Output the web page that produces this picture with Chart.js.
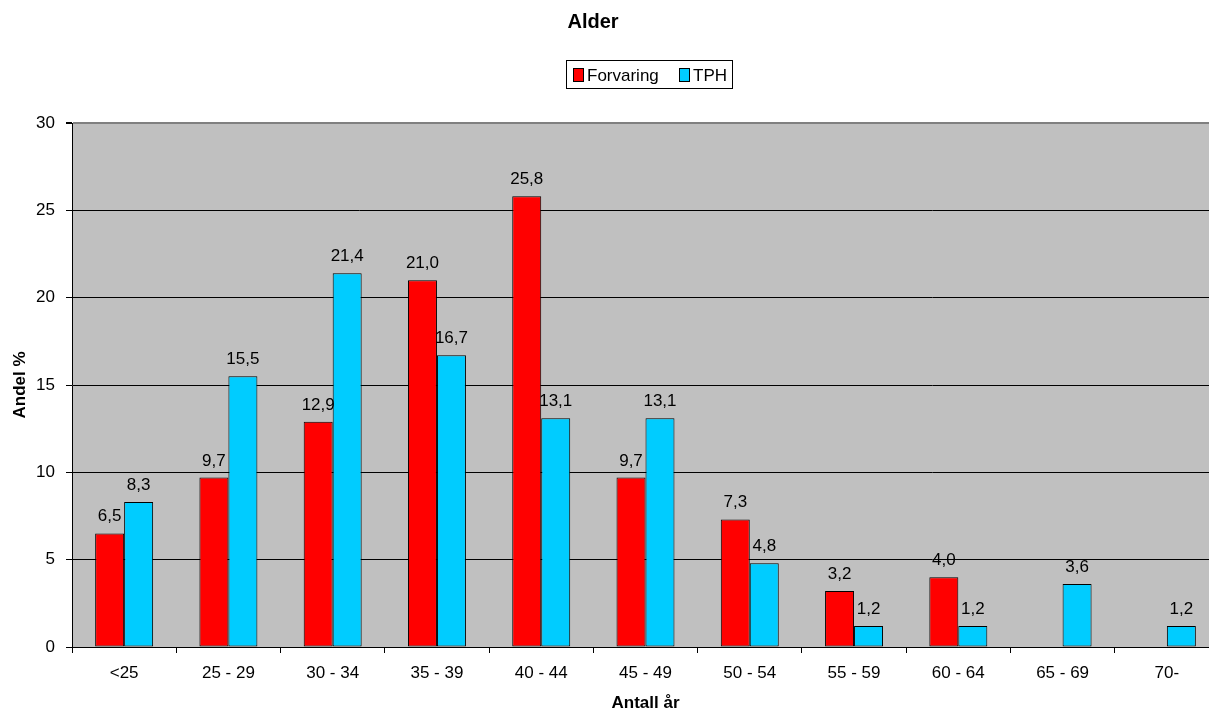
<!DOCTYPE html>
<html>
<head>
<meta charset="utf-8">
<script src="https://cdn.jsdelivr.net/npm/chart.js@4/dist/chart.umd.min.js"></script>
<style>
  html, body { margin: 0; padding: 0; background: #fff; overflow: hidden; }
  #wrap { width: 1230px; height: 710px; }
</style>
</head>
<body>
<div id="wrap"><canvas id="c" width="1230" height="710"></canvas></div>
<script>
// Age groups and shares (%)
const categories = ['<25', '25 - 29', '30 - 34', '35 - 39', '40 - 44', '45 - 49', '50 - 54', '55 - 59', '60 - 64', '65 - 69', '70-'];
const forvaring = [6.5, 9.7, 12.9, 21.0, 25.8, 9.7, 7.3, 3.2, 4.0, null, null];
const tph = [8.3, 15.5, 21.4, 16.7, 13.1, 13.1, 4.8, 1.2, 1.2, 3.6, 1.2];
const yTicks = [0, 5, 10, 15, 20, 25, 30];

const FONT = '"Liberation Sans", Arial, sans-serif';
const fmt = v => v.toFixed(1).replace('.', ',');

const decor = {
  id: 'decor',
  beforeDraw(chart) {
    const { ctx, chartArea: a } = chart;
    ctx.save();
    ctx.fillStyle = '#c0c0c0';
    ctx.fillRect(a.left, a.top, a.right - a.left, a.bottom - a.top);
    ctx.restore();
  },
  afterDatasetsDraw(chart) {
    const ctx = chart.ctx;
    ctx.save();
    // value labels above bars
    ctx.font = '17px ' + FONT;
    ctx.fillStyle = '#000';
    ctx.textAlign = 'center';
    ctx.textBaseline = 'alphabetic';
    chart.data.datasets.forEach((ds, i) => {
      chart.getDatasetMeta(i).data.forEach((bar, j) => {
        const v = ds.data[j];
        if (v == null) return;
        ctx.fillText(fmt(v), bar.x, bar.y - 12);
      });
    });
    ctx.restore();
  },
  afterDraw(chart) {
    const ctx = chart.ctx;
    ctx.save();
    ctx.fillStyle = '#000';
    ctx.textAlign = 'center';
    ctx.textBaseline = 'middle';
    // title
    ctx.font = 'bold 20px ' + FONT;
    ctx.fillText('Alder', 593, 22);
    ctx.restore();

    // legend box
    ctx.save();
    ctx.fillStyle = '#fff';
    ctx.fillRect(566.5, 60.5, 166, 28);
    ctx.strokeStyle = '#000';
    ctx.lineWidth = 1;
    ctx.strokeRect(566.5, 60.5, 166, 28);
    const items = [
      { label: 'Forvaring', color: '#ff0000', x: 573 },
      { label: 'TPH', color: '#00ccff', x: 679 }
    ];
    ctx.font = '17px ' + FONT;
    ctx.textAlign = 'left';
    ctx.textBaseline = 'alphabetic';
    items.forEach(it => {
      ctx.fillStyle = it.color;
      ctx.fillRect(it.x + 0.5, 68.5, 10, 13);
      ctx.strokeStyle = '#000';
      ctx.strokeRect(it.x + 0.5, 68.5, 10, 13);
      ctx.fillStyle = '#000';
      ctx.fillText(it.label, it.x + 14, 81);
    });
    ctx.restore();
  }
};

new Chart(document.getElementById('c'), {
  type: 'bar',
  data: {
    labels: categories,
    datasets: [
      { label: 'Forvaring', data: forvaring, backgroundColor: '#ff0000', borderColor: '#000', borderWidth: 1 },
      { label: 'TPH', data: tph, backgroundColor: '#00ccff', borderColor: '#000', borderWidth: 1 }
    ]
  },
  options: {
    responsive: false,
    animation: false,
    layout: { padding: { left: 0, right: 11, top: 123, bottom: 0 } },
    datasets: { bar: { categoryPercentage: 0.556, barPercentage: 1.0, borderSkipped: false } },
    plugins: { legend: { display: false }, title: { display: false }, tooltip: { enabled: false } },
    scales: {
      x: {
        afterFit: s => { s.height = 63; },
        grid: { offset: true, drawOnChartArea: false, color: '#000', tickLength: 6 },
        border: { color: '#000', width: 1 },
        ticks: { color: '#000', font: { family: FONT, size: 17 }, padding: 10, maxRotation: 0 },
        title: { display: true, text: 'Antall år', color: '#000', font: { family: FONT, size: 17, weight: 'bold', lineHeight: 0.8 }, padding: { top: 0, bottom: 0 } }
      },
      y: {
        min: 0, max: 30,
        afterFit: s => { s.width = 72; },
        afterBuildTicks: s => { s.ticks = yTicks.map(v => ({ value: v })); },
        grid: {
          color: c => (c.tick && c.tick.value === 30 ? '#808080' : '#000'),
          lineWidth: c => (c.tick && c.tick.value === 30 ? 2 : 1),
          tickColor: '#000', tickLength: 6
        },
        border: { color: '#000', width: 1 },
        ticks: { color: '#000', font: { family: FONT, size: 17 }, padding: 11 },
        title: { display: true, text: 'Andel %', color: '#000', font: { family: FONT, size: 17, weight: 'bold' }, padding: { top: 10, bottom: 0 } }
      }
    }
  },
  plugins: [decor]
});
</script>
</body>
</html>
